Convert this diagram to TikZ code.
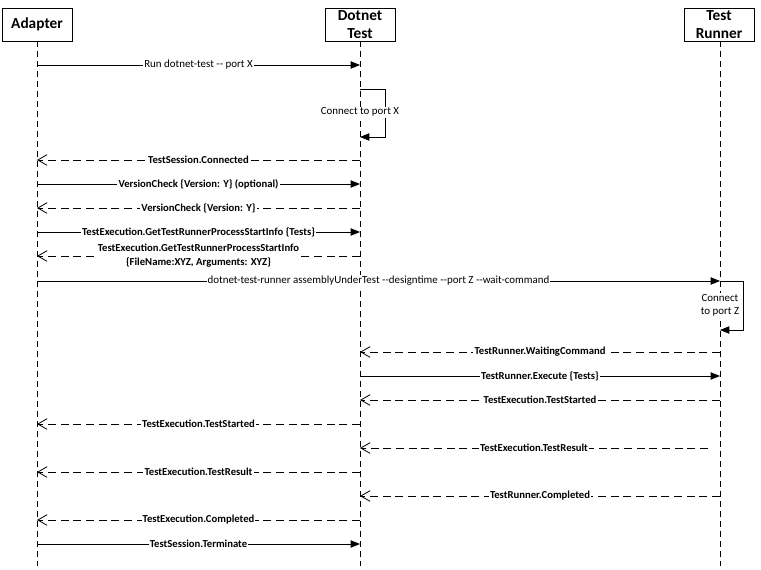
\documentclass[tikz,border=0pt]{standalone}
\usepackage{fontspec}
\setmainfont{Carlito}
\usetikzlibrary{arrows.meta,positioning}

\begin{document}
\begin{tikzpicture}[x=0.75pt, y=-0.75pt,
  actor/.style={draw, fill=white, minimum width=52.5pt, minimum height=24.75pt, inner sep=0pt, align=center, font=\bfseries\fontsize{11.5}{13.5}\selectfont},
  life/.style={dash pattern=on 4.5pt off 3pt, line width=0.6pt},
  call/.style={line width=0.6pt, -{Triangle[length=7pt,width=5.5pt]}},
  reply/.style={line width=0.6pt, dash pattern=on 6pt off 3.5pt, -{Straight Barb[length=7pt,width=8pt,line width=0.6pt]}},
  lbl/.style={fill=white, inner sep=0.8pt, align=center, font=\bfseries\fontsize{8}{10.5}\selectfont},
  plain/.style={lbl, font=\fontsize{8.2}{10}\selectfont}]
\useasboundingbox[fill=white] (0,0) rectangle (761,569);

% participants and lifelines
\node[actor] (ad) at (37,24.5) {Adapter};
\node[actor] (dt) at (360,24.5) {Dotnet\\Test};
\node[actor] (tr) at (719,24.5) {Test\\Runner};
\coordinate (adE) at (37,566);
\coordinate (dtE) at (360,566);
\coordinate (trE) at (720,566);
\draw[life] (ad) -- (adE);
\draw[life] (dt) -- (dtE);
\draw[life] (tr.south -| trE) -- (trE);

% start up
\coordinate (a1) at (37,65);  \coordinate (d1) at (360,65);
\draw[call] (a1) -- node[plain] {Run dotnet-test -{}- port X} (d1);
\coordinate (l1) at (360,89); \coordinate (l2) at (360,137);
\draw[call] (l1) -- ++(25,0) |- (l2);
\node[plain] (c1) at (360,112) {Connect to port X};

% handshake
\coordinate (d2) at (360,160); \coordinate (a2) at (37,160);
\draw[reply] (d2) -- node[lbl] {TestSession.Connected} (a2);
\coordinate (a3) at (37,184);  \coordinate (d3) at (360,184);
\draw[call] (a3) -- node[lbl] {VersionCheck \{Version: Y\} (optional)} (d3);
\coordinate (d4) at (360,208); \coordinate (a4) at (37,208);
\draw[reply] (d4) -- node[lbl] {VersionCheck \{Version: Y\}} (a4);
\coordinate (a5) at (37,232);  \coordinate (d5) at (360,232);
\draw[call] (a5) -- node[lbl] {TestExecution.GetTestRunnerProcessStartInfo \{Tests\}} (d5);
\coordinate (d6) at (360,256); \coordinate (a6) at (37,256);
\draw[reply] (d6) -- node[lbl] {TestExecution.GetTestRunnerProcessStartInfo\\\{FileName:XYZ, Arguments: XYZ\}} (a6);

% launch runner
\coordinate (a7) at (37,281);  \coordinate (t7) at (720,281);
\draw[call] (a7) -- node[plain] {dotnet-test-runner assemblyUnderTest -{}-designtime -{}-port Z -{}-wait-command} (t7);
\coordinate (l3) at (720,281); \coordinate (l4) at (720,330);
\draw[call] (l3) -- ++(23,0) |- (l4);
\node[plain] (c2) at (720,305) {Connect\\to port Z};

% run tests
\coordinate (t8) at (720,352); \coordinate (d8) at (360,352);
\draw[reply] (t8) -- node[lbl] {TestRunner.WaitingCommand} (d8);
\coordinate (d9) at (360,376); \coordinate (t9) at (720,376);
\draw[call] (d9) -- node[lbl] {TestRunner.Execute \{Tests\}} (t9);
\coordinate (t10) at (720,400); \coordinate (d10) at (360,400);
\draw[reply] (t10) -- node[lbl] {TestExecution.TestStarted} (d10);
\coordinate (d11) at (360,424); \coordinate (a11) at (37,424);
\draw[reply] (d11) -- node[lbl] {TestExecution.TestStarted} (a11);
\coordinate (t12) at (708,448); \coordinate (d12) at (360,448);
\draw[reply] (t12) -- node[lbl] {TestExecution.TestResult} (d12);
\coordinate (d13) at (360,472); \coordinate (a13) at (37,472);
\draw[reply] (d13) -- node[lbl] {TestExecution.TestResult} (a13);
\coordinate (t14) at (720,496); \coordinate (d14) at (360,496);
\draw[reply] (t14) -- node[lbl] {TestRunner.Completed} (d14);
\coordinate (d15) at (360,520); \coordinate (a15) at (37,520);
\draw[reply] (d15) -- node[lbl] {TestExecution.Completed} (a15);
\coordinate (a16) at (37,544); \coordinate (d16) at (360,544);
\draw[call] (a16) -- node[lbl] {TestSession.Terminate} (d16);
\end{tikzpicture}
\end{document}
